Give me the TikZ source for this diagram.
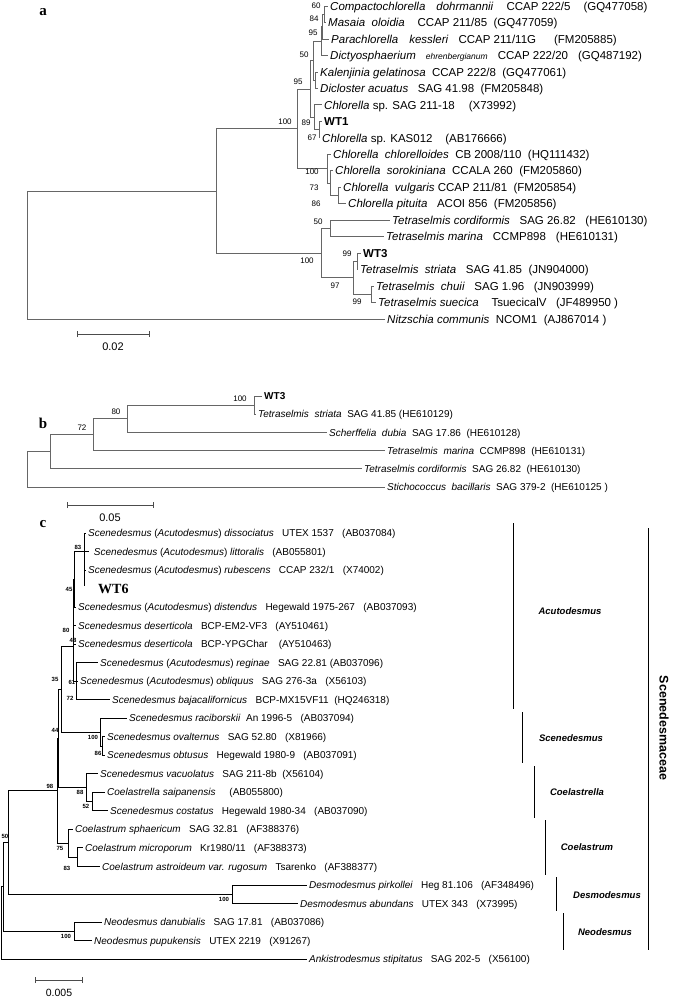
\documentclass[tikz,border=0pt]{standalone}
\usepackage{fontspec}
\setmainfont{Liberation Sans}
\newfontfamily\tnr{Liberation Serif}
\usetikzlibrary{arrows.meta}
\begin{document}
\begin{tikzpicture}[x=1pt,y=-1pt,
  bra/.style={draw=black!60, line width=0.8pt},
  brc/.style={draw=black, line width=0.8pt},
  la/.style={anchor=west, inner sep=0pt, xshift=2pt, text height=8.4pt, text depth=0pt, font=\fontsize{11.5}{11.5}\selectfont},
  lb/.style={anchor=west, inner sep=0pt, xshift=2pt, text height=7.2pt, text depth=0pt, font=\fontsize{10}{10}\selectfont},
  lc/.style={anchor=west, inner sep=0pt, xshift=2pt, text height=7.2pt, text depth=0pt, font=\fontsize{10}{10}\selectfont},
  bsa/.style={inner sep=0pt, font=\fontsize{8}{8}\selectfont},
  bsc/.style={inner sep=0pt, font=\bfseries\fontsize{6}{6}\selectfont},
  plabel/.style={inner sep=0pt, font=\tnr\bfseries\fontsize{15}{15}\selectfont},
  cbar/.style={draw=black, line width=0.9pt},
  grp/.style={inner sep=0pt, font=\bfseries\itshape\fontsize{9.5}{9.5}\selectfont},
  sbar/.style={draw=black!70, line width=0.8pt, {Bar[width=6pt]}-{Bar[width=6pt]}},
]
\useasboundingbox (0,0) rectangle (685,1001);

% ================= PANEL A =================
\node[plabel] (pa) at (43,12) {a};
\coordinate (aRoot) at (27,254.95);
\coordinate (aIn) at (216,190.9);
\coordinate (aChl) at (297,128.75);
\coordinate (aA) at (324,14.25);
\coordinate (aB) at (322.5,26.6);
\coordinate (aC) at (321.5,41);
\coordinate (aD) at (315,80.15);
\coordinate (aE) at (313,60.6);
\coordinate (aF) at (310,88.9);
\coordinate (aG) at (314,117.2);
\coordinate (aH) at (319,129.55);
\coordinate (aI) at (327,168.6);
\coordinate (aJ) at (330,183);
\coordinate (aK) at (338,195.4);
\coordinate (aTet) at (321,253.1);
\coordinate (aL) at (330,228.35);
\coordinate (aN) at (357,261.3);
\coordinate (aO) at (371,294.25);
\coordinate (aP) at (353,277.8);

\coordinate (a0) at (328,6.0);
\coordinate (a1) at (326,22.5);
\coordinate (a2) at (329,38.9);
\coordinate (a3) at (328,55.4);
\coordinate (a4) at (318,71.9);
\coordinate (a5) at (318,88.4);
\coordinate (a6) at (322,104.8);
\coordinate (a7) at (322,121.3);
\coordinate (a8) at (320,137.8);
\coordinate (a9) at (331,154.2);
\coordinate (a10) at (333,170.7);
\coordinate (a11) at (341,187.2);
\coordinate (a12) at (346,203.6);
\coordinate (a13) at (390,220.1);
\coordinate (a14) at (384,236.6);
\coordinate (a15) at (361,253.1);
\coordinate (a16) at (358,269.5);
\coordinate (a17) at (374,286.0);
\coordinate (a18) at (376,302.5);
\coordinate (a19) at (385,319.0);

\foreach \p/\c in {aRoot/aIn,aRoot/a19,aIn/aChl,aIn/aTet,aChl/aF,aChl/aI,aF/aE,aF/aG,
  aE/aC,aE/aD,aC/aB,aC/a3,aB/aA,aB/a2,aA/a0,aA/a1,aD/a4,aD/a5,aG/a6,aG/aH,aH/a7,aH/a8,
  aI/a9,aI/aJ,aJ/a10,aJ/aK,aK/a11,aK/a12,aTet/aL,aTet/aP,aL/a13,aL/a14,aP/aN,aP/aO,
  aN/a15,aN/a16,aO/a17,aO/a18}
  \draw[bra] (\p) |- (\c);

\node[la] (la0) at (a0) {\textit{Compactochlorella}\hspace{11pt}\textit{dohrmannii}\hspace{13pt}CCAP 222/5\hspace{13pt}(GQ477058)};
\node[la] (la1) at (a1) {\textit{Masaia}~~\textit{oloidia}~~~~CCAP 211/85~~(GQ477059)};
\node[la] (la2) at (a2) {\textit{Parachlorella}\hspace{11pt}\textit{kessleri}\hspace{10pt}CCAP 211/11G\hspace{18pt}(FM205885)};
\node[la] (la3) at (a3) {\textit{Dictyosphaerium}\hspace{10pt}{\fontsize{8.5}{8.5}\selectfont\textit{ehrenbergianum}}\hspace{10pt}CCAP 222/20\hspace{10pt}(GQ487192)};
\node[la] (la4) at (a4) {\textit{Kalenjinia gelatinosa}~~CCAP 222/8~~(GQ477061)};
\node[la] (la5) at (a5) {\textit{Dicloster acuatus}~~~SAG 41.98~~(FM205848)};
\node[la] (la6) at (a6) {\textit{Chlorella} sp. SAG 211-18\hspace{14pt}(X73992)};
\node[la] (la7) at (a7) {\textbf{WT1}};
\node[la] (la8) at (a8) {\textit{Chlorella} sp. KAS012~~~~(AB176666)};
\node[la] (la9) at (a9) {\textit{Chlorella}~~\textit{chlorelloides}~~CB 2008/110~~(HQ111432)};
\node[la] (la10) at (a10) {\textit{Chlorella}~~\textit{sorokiniana}~~CCALA 260~~(FM205860)};
\node[la] (la11) at (a11) {\textit{Chlorella}~~\textit{vulgaris}~CCAP 211/81~~(FM205854)};
\node[la] (la12) at (a12) {\textit{Chlorella pituita}~~~ACOI 856~~(FM205856)};
\node[la] (la13) at (a13) {\textit{Tetraselmis cordiformis}~~~SAG 26.82~~~(HE610130)};
\node[la] (la14) at (a14) {\textit{Tetraselmis marina}\hspace{10pt}CCMP898\hspace{10pt}(HE610131)};
\node[la] (la15) at (a15) {\textbf{WT3}};
\node[la] (la16) at (a16) {\textit{Tetraselmis}~~\textit{striata}~~~SAG 41.85~~(JN904000)};
\node[la] (la17) at (a17) {\textit{Tetraselmis}~~\textit{chuii}~~~SAG 1.96~~~(JN903999)};
\node[la] (la18) at (a18) {\textit{Tetraselmis suecica}~~~~TsuecicalV~~~(JF489950 )};
\node[la] (la19) at (a19) {\textit{Nitzschia communis}~~NCOM1~~(AJ867014 )};

\node[bsa] (ba1) at (316,6) {60};
\node[bsa] (ba2) at (314,19) {84};
\node[bsa] (ba3) at (313,33) {95};
\node[bsa] (ba4) at (304,55) {50};
\node[bsa] (ba5) at (298,82) {95};
\node[bsa] (ba6) at (285,122) {100};
\node[bsa] (ba7) at (306,123) {89};
\node[bsa] (ba8) at (312,138) {67};
\node[bsa] (ba9) at (312,172) {100};
\node[bsa] (ba10) at (314,188) {73};
\node[bsa] (ba11) at (316,204) {86};
\node[bsa] (ba12) at (318,222) {50};
\node[bsa] (ba13) at (307,261) {100};
\node[bsa] (ba14) at (347,254) {99};
\node[bsa] (ba15) at (335,286) {97};
\node[bsa] (ba16) at (357,302) {99};

\coordinate (sa1) at (77,334);
\coordinate (sa2) at (150,334);
\draw[sbar] (sa1) -- (sa2);
\node[font=\fontsize{11}{11}\selectfont] (sal) at (113,347) {0.02};

% ================= PANEL B =================
\node[plabel] (pb) at (43,423) {b};
\coordinate (bRoot) at (27,469.4);
\coordinate (bN3) at (50,451.75);
\coordinate (bN72) at (93,434.7);
\coordinate (bN80) at (127,418.75);
\coordinate (bWT) at (254,405.1);
\coordinate (b0) at (262,396);
\coordinate (b1) at (256,414.2);
\coordinate (b2) at (327,432.4);
\coordinate (b3) at (385,450.6);
\coordinate (b4) at (362,468.8);
\coordinate (b5) at (385,487);
\foreach \p/\c in {bRoot/bN3,bRoot/b5,bN3/bN72,bN3/b4,bN72/bN80,bN72/b3,bN80/bWT,bN80/b2,bWT/b0,bWT/b1}
  \draw[bra] (\p) |- (\c);
\node[lb] (lb0) at (b0) {\textbf{WT3}};
\node[lb] (lb1) at (b1) {\textit{Tetraselmis}~~\textit{striata}~~SAG 41.85 (HE610129)};
\node[lb] (lb2) at (b2) {\textit{Scherffelia}~~\textit{dubia}~~SAG 17.86~~(HE610128)};
\node[lb] (lb3) at (b3) {\textit{Tetraselmis}~~\textit{marina}~~CCMP898~~(HE610131)};
\node[lb] (lb4) at (b4) {\textit{Tetraselmis cordiformis}~~SAG 26.82~~(HE610130)};
\node[lb] (lb5) at (b5) {\textit{Stichococcus}~~\textit{bacillaris}~~SAG 379-2~~(HE610125 )};
\node[bsa] (bb1) at (240,399) {100};
\node[bsa] (bb2) at (116,412) {80};
\node[bsa] (bb3) at (82,428) {72};
\coordinate (sb1) at (67,505);
\coordinate (sb2) at (154,505);
\draw[sbar] (sb1) -- (sb2);
\node[font=\fontsize{11}{11}\selectfont] (sbl) at (110,518) {0.05};

% ================= PANEL C =================
\node[plabel] (pc) at (43,524) {c};
\coordinate (cRoot) at (1,922.9);
\coordinate (cR2) at (3.5,886.8);
\coordinate (cQ) at (8,842.5);
\coordinate (cN98) at (57,790.8);
\coordinate (cN44) at (58.5,738.3);
\coordinate (cN35) at (61,689);
\coordinate (cN80) at (73,646.5);
\coordinate (cN48) at (73.5,611.7);
\coordinate (cN45) at (74,579.3);
\coordinate (cA1) at (84,551.5);
\coordinate (cWTend) at (84,586);
\coordinate (cN61) at (76,681.2);
\coordinate (cRac) at (100,732);
\coordinate (cOv) at (102,745.9);
\coordinate (c88) at (86,787.7);
\coordinate (c52) at (92,801.5);
\coordinate (c75) at (68,843.2);
\coordinate (c83) at (77,857.1);
\coordinate (cDes) at (232,894.2);
\coordinate (cNeo) at (74,931.2);

\coordinate (c0) at (86,533);
\coordinate (c1) at (89,551.5);
\coordinate (c2) at (86,570);
\coordinate (c3) at (98,588.6);
\coordinate (c4) at (76,607.1);
\coordinate (c5) at (76,625.6);
\coordinate (c6) at (76,644.1);
\coordinate (c7) at (98,662.6);
\coordinate (c8) at (78,681.2);
\coordinate (c9) at (110,699.7);
\coordinate (c10) at (127,718.2);
\coordinate (c11) at (105,736.7);
\coordinate (c12) at (105,755.2);
\coordinate (c13) at (98,773.8);
\coordinate (c14) at (105,792.3);
\coordinate (c15) at (108,810.8);
\coordinate (c16) at (73,829.3);
\coordinate (c17) at (83,847.8);
\coordinate (c18) at (100,866.4);
\coordinate (c19) at (307,884.9);
\coordinate (c20) at (298,903.4);
\coordinate (c21) at (102,921.9);
\coordinate (c22) at (92,940.4);
\coordinate (c23) at (307,959);

\foreach \p/\c in {cRoot/cR2,cRoot/c23,cR2/cQ,cR2/cNeo,cQ/cN98,cQ/cDes,cN98/cN44,cN98/c75,
  cN44/cN35,cN44/c88,cN35/cN80,cN35/cRac,cN80/cN48,cN80/cN61,cN48/cN45,cN48/c5,cN48/c6,
  cN45/cA1,cN45/c4,cA1/c0,cA1/c1,cA1/c2,cN61/c7,cN61/c8,cN61/c9,cRac/c10,cRac/cOv,
  cOv/c11,cOv/c12,c88/c13,c88/c52,c52/c14,c52/c15,c75/c16,c75/c83,c83/c17,c83/c18,
  cDes/c19,cDes/c20,cNeo/c21,cNeo/c22}
  \draw[brc] (\p) |- (\c);
\draw[brc] (cA1) -- (cWTend);

\node[lc] (lc0) at (c0) {\textit{Scenedesmus} (\textit{Acutodesmus}) \textit{dissociatus}~~~UTEX 1537~~~(AB037084)};
\node[lc] (lc1) at (c1) {~\textit{Scenedesmus} (\textit{Acutodesmus}) \textit{littoralis}~~~(AB055801)};
\node[lc] (lc2) at (c2) {\textit{Scenedesmus} (\textit{Acutodesmus}) \textit{rubescens}~~~CCAP 232/1~~~(X74002)};
\node[anchor=west, inner sep=0pt, font=\tnr\bfseries\fontsize{14}{14}\selectfont] (lc3) at (c3) {WT6};
\node[lc] (lc4) at (c4) {\textit{Scenedesmus} (\textit{Acutodesmus}) \textit{distendus}~~~Hegewald 1975-267~~~(AB037093)};
\node[lc] (lc5) at (c5) {\textit{Scenedesmus deserticola}~~~BCP-EM2-VF3~~~(AY510461)};
\node[lc] (lc6) at (c6) {\textit{Scenedesmus deserticola}~~~BCP-YPGChar~~~~(AY510463)};
\node[lc] (lc7) at (c7) {\textit{Scenedesmus} (\textit{Acutodesmus}) \textit{reginae}~~~SAG 22.81 (AB037096)};
\node[lc] (lc8) at (c8) {\textit{Scenedesmus} (\textit{Acutodesmus}) \textit{obliquus}~~~SAG 276-3a~~~(X56103)};
\node[lc] (lc9) at (c9) {\textit{Scenedesmus bajacalifornicus}~~~BCP-MX15VF11~~(HQ246318)};
\node[lc] (lc10) at (c10) {\textit{Scenedesmus raciborskii}~~An 1996-5~~~(AB037094)};
\node[lc] (lc11) at (c11) {\textit{Scenedesmus ovalternus}~~~SAG 52.80~~~(X81966)};
\node[lc] (lc12) at (c12) {\textit{Scenedesmus obtusus}~~~Hegewald 1980-9~~~(AB037091)};
\node[lc] (lc13) at (c13) {\textit{Scenedesmus vacuolatus}~~~SAG 211-8b~~(X56104)};
\node[lc] (lc14) at (c14) {\textit{Coelastrella saipanensis}~~~~~(AB055800)};
\node[lc] (lc15) at (c15) {\textit{Scenedesmus costatus}~~~Hegewald 1980-34~~~(AB037090)};
\node[lc] (lc16) at (c16) {\textit{Coelastrum sphaericum}~~~SAG 32.81~~~(AF388376)};
\node[lc] (lc17) at (c17) {\textit{Coelastrum microporum}~~~Kr1980/11~~~(AF388373)};
\node[lc] (lc18) at (c18) {\textit{Coelastrum astroideum var. rugosum}~~~Tsarenko~~~(AF388377)};
\node[lc] (lc19) at (c19) {\textit{Desmodesmus pirkollei}~~~Heg 81.106~~~(AF348496)};
\node[lc] (lc20) at (c20) {\textit{Desmodesmus abundans}~~~UTEX 343~~~(X73995)};
\node[lc] (lc21) at (c21) {\textit{Neodesmus danubialis}~~~SAG 17.81~~~(AB037086)};
\node[lc] (lc22) at (c22) {\textit{Neodesmus pupukensis}~~~UTEX 2219~~~(X91267)};
\node[lc] (lc23) at (c23) {\textit{Ankistrodesmus stipitatus}~~~SAG 202-5~~~(X56100)};

\node[bsc] (bc1) at (78,547) {83};
\node[bsc] (bc2) at (69,589) {45};
\node[bsc] (bc3) at (66,630) {80};
\node[bsc] (bc4) at (73,640) {48};
\node[bsc] (bc5) at (72,682) {61};
\node[bsc] (bc6) at (70,698) {72};
\node[bsc] (bc7) at (55,679) {35};
\node[bsc] (bc8) at (55,730) {44};
\node[bsc] (bc9) at (93,737) {100};
\node[bsc] (bc10) at (98,753) {86};
\node[bsc] (bc11) at (50,786) {98};
\node[bsc] (bc12) at (80,792) {88};
\node[bsc] (bc13) at (86,806) {52};
\node[bsc] (bc14) at (60,848) {75};
\node[bsc] (bc15) at (67,868) {83};
\node[bsc] (bc16) at (5,836) {50};
\node[bsc] (bc17) at (224,899) {100};
\node[bsc] (bc18) at (66,936) {100};

% clade bars
\coordinate (g1t) at (513,523); \coordinate (g1b) at (513,709);
\coordinate (g2t) at (522,712); \coordinate (g2b) at (522,763);
\coordinate (g3t) at (534,766); \coordinate (g3b) at (534,818);
\coordinate (g4t) at (545,820); \coordinate (g4b) at (545,875);
\coordinate (g5t) at (556,877); \coordinate (g5b) at (556,911);
\coordinate (g6t) at (563,913); \coordinate (g6b) at (563,950);
\coordinate (g7t) at (648,528); \coordinate (g7b) at (648,950);
\draw[cbar] (g1t) -- (g1b);
\draw[cbar] (g2t) -- (g2b);
\draw[cbar] (g3t) -- (g3b);
\draw[cbar] (g4t) -- (g4b);
\draw[cbar] (g5t) -- (g5b);
\draw[cbar] (g6t) -- (g6b);
\draw[cbar] (g7t) -- (g7b);
\node[grp] (gl1) at (570,611) {Acutodesmus};
\node[grp] (gl2) at (571,738) {Scenedesmus};
\node[grp] (gl3) at (577,792) {Coelastrella};
\node[grp] (gl4) at (587,847) {Coelastrum};
\node[grp] (gl5) at (607,895) {Desmodesmus};
\node[grp] (gl6) at (605,932) {Neodesmus};
\node[rotate=-90, inner sep=0pt, font=\bfseries\fontsize{12.5}{12.5}\selectfont] (gl7) at (664,728) {Scenedesmaceae};

\coordinate (sc1) at (35,980);
\coordinate (sc2) at (83,980);
\draw[sbar] (sc1) -- (sc2);
\node[font=\fontsize{10.5}{10.5}\selectfont] (scl) at (59,993) {0.005};
\end{tikzpicture}
\end{document}
